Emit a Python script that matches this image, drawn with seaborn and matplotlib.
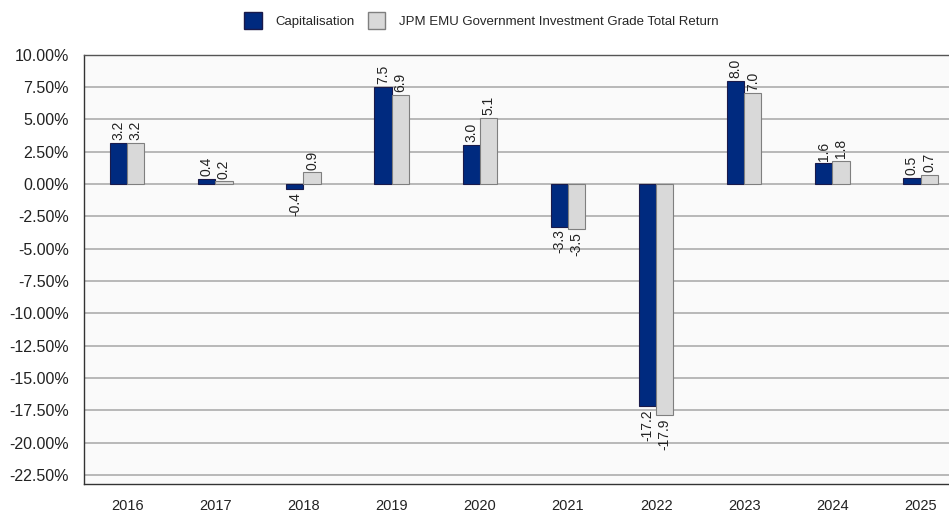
import matplotlib.pyplot as plt
import matplotlib.ticker as mtick
import numpy as np
import pandas as pd
import seaborn as sb
from matplotlib.patches import Patch

years = ["2016", "2017", "2018", "2019", "2020", "2021", "2022", "2023", "2024", "2025"]
fund = [3.2, 0.4, -0.4, 7.5, 3.0, -3.3, -17.2, 8.0, 1.6, 0.5]
bench = [3.2, 0.2, 0.9, 6.9, 5.1, -3.5, -17.9, 7.0, 1.8, 0.7]
series = ["Capitalisation", "JPM EMU Government Investment Grade Total Return"]
yticks = [10.0, 7.5, 5.0, 2.5, 0.0, -2.5, -5.0, -7.5, -10.0, -12.5, -15.0, -17.5, -20.0, -22.5]

if __name__ == "__main__":
    sb.set_style("white")
    plt.rcParams["font.family"] = ["Liberation Sans", "DejaVu Sans"]

    df = pd.DataFrame({
        "year": years * 2,
        "value": fund + bench,
        "series": [series[0]] * len(years) + [series[1]] * len(years),
    })

    colors = ["#002a7f", "#d9d9d9"]
    edges = ["#1a1a4a", "#7f7f7f"]

    fig = plt.figure(figsize=(9.49, 5.16), dpi=100)
    ax = fig.add_axes([0.0885, 0.062, 0.915, 0.832])
    ax.set_facecolor("#fafafa")

    sb.barplot(data=df, x="year", y="value", hue="series", palette=colors,
               width=0.39, gap=0, saturation=1, ax=ax, legend=False)

    for i, cont in enumerate(ax.containers):
        for p in cont:
            p.set_edgecolor(edges[i])
            p.set_linewidth(0.8)
        vals = fund if i == 0 else bench
        ax.bar_label(cont, labels=[f"{v:.1f}" for v in vals], rotation=90,
                     padding=2, fontsize=10, color="#222222")

    ax.set_ylim(-23.2, 10.0)
    ax.set_xlim(-0.49, 9.36)
    ax.set_yticks(yticks)
    ax.yaxis.set_major_formatter(mtick.FuncFormatter(lambda v, _: f"{v:.2f}%"))
    ax.grid(axis="y", color="#a6a6a6", linewidth=1.1)
    ax.set_axisbelow(True)
    ax.set_xlabel("")
    ax.set_ylabel("")

    for s in ["left", "bottom", "top"]:
        ax.spines[s].set_color("#333333")
        ax.spines[s].set_linewidth(1.0)
    ax.spines["top"].set_color("#555555")
    ax.spines["right"].set_visible(False)

    ax.tick_params(axis="both", direction="out", length=5, width=1, color="#333333",
                   labelcolor="#222222")
    ax.tick_params(axis="x", pad=6, labelsize=10.5)
    ax.tick_params(axis="y", pad=6, labelsize=11.5)

    handles = [Patch(facecolor=colors[i], edgecolor=edges[i], label=series[i]) for i in range(2)]
    fig.legend(handles=handles, loc="upper center", bbox_to_anchor=(0.507, 1.0), ncol=2,
               frameon=False, fontsize=9.5, handlelength=1.35, handleheight=1.6,
               columnspacing=1.0, handletextpad=1.0)

    plt.savefig("out.png", dpi=100)
    plt.close()
